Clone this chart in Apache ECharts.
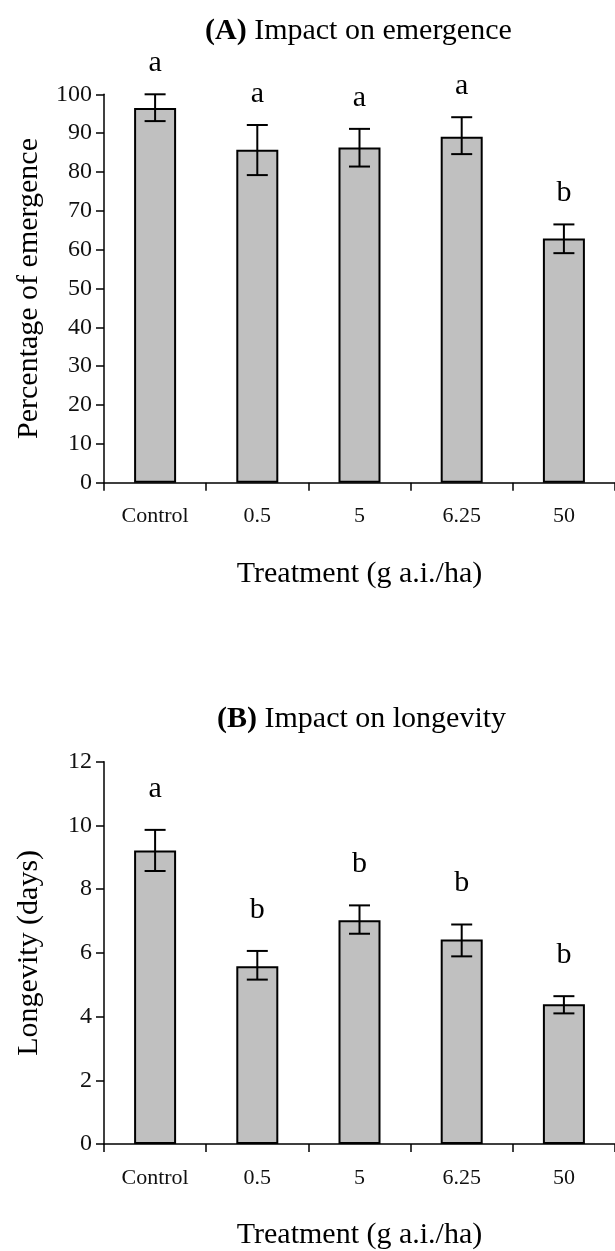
<!DOCTYPE html>
<html>
<head>
<meta charset="utf-8">
<script src="https://cdn.jsdelivr.net/npm/echarts@6/dist/echarts.min.js"></script>
<style>
  html, body { margin: 0; padding: 0; background: #fff; }
  #chart { width: 615px; height: 1251px; }
</style>
</head>
<body>
<div id="chart"></div>
<script>
// values
const treatments = ['Control', '0.5', '5', '6.25', '50'];

const emergenceMean = [96.5, 85.7, 86.3, 89.1, 62.9];
const emergenceLow = [93.1, 79.2, 81.4, 84.6, 59.1];
const emergenceHigh = [100, 92.1, 91.1, 94.1, 66.5];
const emergenceLetters = ['a', 'a', 'a', 'a', 'b'];

const longevityMean = [9.21, 5.58, 7.02, 6.42, 4.39];
const longevityLow = [8.57, 5.16, 6.60, 5.89, 4.10];
const longevityHigh = [9.86, 6.06, 7.49, 6.89, 4.64];
const longevityLetters = ['a', 'b', 'b', 'b', 'b'];

const FONT = '"Liberation Serif", "Times New Roman", serif';

function errorBars(letters, gap) {
    return function (params, api) {
        const x = api.value(0);
        const hi = api.coord([x, api.value(2)]);
        const lo = api.coord([x, api.value(1)]);
        const half = 10.5;
        const style = { stroke: '#000', lineWidth: 2 };
        return {
            type: 'group',
            children: [
                { type: 'line', shape: { x1: hi[0], y1: hi[1], x2: lo[0], y2: lo[1] }, style },
                { type: 'line', shape: { x1: hi[0] - half, y1: hi[1], x2: hi[0] + half, y2: hi[1] }, style },
                { type: 'line', shape: { x1: lo[0] - half, y1: lo[1], x2: lo[0] + half, y2: lo[1] }, style },
                {
                    type: 'text',
                    style: {
                        x: hi[0], y: hi[1] - gap,
                        text: letters[params.dataIndex],
                        fill: '#000', font: '30px ' + FONT,
                        textAlign: 'center', textVerticalAlign: 'middle'
                    }
                }
            ]
        };
    };
}

function xAxisFor(gridIndex) {
    return {
        type: 'category', gridIndex, data: treatments,
        name: 'Treatment (g a.i./ha)', nameLocation: 'middle', nameGap: 76,
        nameTextStyle: { fontFamily: FONT, fontSize: 30, color: '#000' },
        axisLine: { lineStyle: { color: '#000', width: 1.5 } },
        axisTick: { show: true, length: 8, lineStyle: { color: '#000', width: 1.5 } },
        axisLabel: { fontFamily: FONT, fontSize: 22, color: '#111', margin: 23, interval: 0 },
        splitLine: { show: false }
    };
}

function yAxisFor(gridIndex, name, max, interval) {
    return {
        type: 'value', gridIndex, min: 0, max, interval,
        name, nameLocation: 'middle', nameGap: 60,
        nameTextStyle: { fontFamily: FONT, fontSize: 30, color: '#000' },
        axisLine: { show: true, lineStyle: { color: '#000', width: 1.5 } },
        axisTick: { show: true, length: 8, lineStyle: { color: '#000', width: 1.5 } },
        axisLabel: { fontFamily: FONT, fontSize: 24, color: '#111', margin: 12 },
        splitLine: { show: false }
    };
}

const barStyle = { color: '#c0c0c0', borderColor: '#000', borderWidth: 2 };

const chart = echarts.init(document.getElementById('chart'));
chart.setOption({
    animation: false,
    backgroundColor: '#fff',
    title: [
        {
            text: '{b|(A)} Impact on emergence', left: 200, top: 11,
            textStyle: { fontFamily: FONT, fontSize: 30, fontWeight: 'normal', color: '#000',
                rich: { b: { fontFamily: FONT, fontSize: 30, fontWeight: 'bold', color: '#000' } } }
        },
        {
            text: '{b|(B)} Impact on longevity', left: 212, top: 699,
            textStyle: { fontFamily: FONT, fontSize: 30, fontWeight: 'normal', color: '#000',
                rich: { b: { fontFamily: FONT, fontSize: 30, fontWeight: 'bold', color: '#000' } } }
        }
    ],
    grid: [
        { left: 104, top: 94.3, width: 515, height: 388.4 },
        { left: 104, top: 761.7, width: 515, height: 387.3 }
    ],
    xAxis: [xAxisFor(0), xAxisFor(1)],
    yAxis: [
        yAxisFor(0, 'Percentage of emergence', 100, 10),
        yAxisFor(1, 'Longevity (days)', 12, 2)
    ],
    series: [
        { type: 'bar', xAxisIndex: 0, yAxisIndex: 0, data: emergenceMean, barWidth: 42, itemStyle: barStyle },
        {
            type: 'custom', xAxisIndex: 0, yAxisIndex: 0, z: 5,
            data: treatments.map((t, i) => [i, emergenceLow[i], emergenceHigh[i]]),
            renderItem: errorBars(emergenceLetters, 31)
        },
        { type: 'bar', xAxisIndex: 1, yAxisIndex: 1, data: longevityMean, barWidth: 42, itemStyle: barStyle },
        {
            type: 'custom', xAxisIndex: 1, yAxisIndex: 1, z: 5,
            data: treatments.map((t, i) => [i, longevityLow[i], longevityHigh[i]]),
            renderItem: errorBars(longevityLetters, 41)
        }
    ]
});
</script>
</body>
</html>
